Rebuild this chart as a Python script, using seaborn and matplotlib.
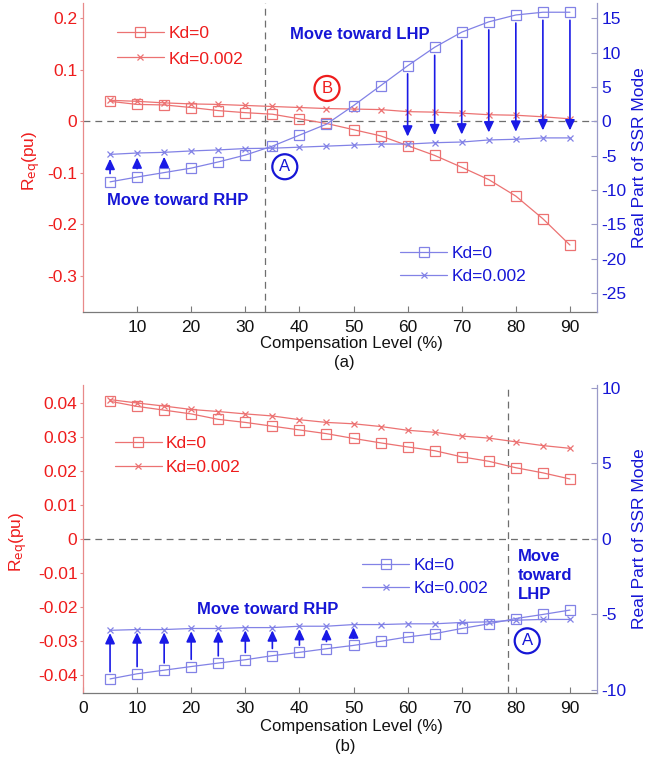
import numpy as np
import pandas as pd
import seaborn as sns
import matplotlib
matplotlib.use("Agg")
import matplotlib.pyplot as plt
from matplotlib.ticker import FuncFormatter

# ---------------- data ----------------
comp_level = [5, 10, 15, 20, 25, 30, 35, 40, 45, 50, 55, 60, 65, 70, 75, 80, 85, 90]

# panel (a)
req_kd0_a = [0.039, 0.033, 0.032, 0.027, 0.021, 0.017, 0.014, 0.005, -0.004, -0.016,
             -0.028, -0.047, -0.066, -0.089, -0.113, -0.145, -0.189, -0.240]
req_kd2_a = [0.041, 0.039, 0.036, 0.034, 0.033, 0.031, 0.029, 0.027, 0.025, 0.024,
             0.023, 0.019, 0.018, 0.016, 0.013, 0.012, 0.009, 0.005]
ssr_kd0_a = [-8.8, -8.1, -7.45, -6.8, -5.9, -4.9, -3.6, -2.0, -0.4, 2.3,
             5.2, 8.1, 10.8, 13.0, 14.5, 15.5, 15.9, 15.9]
ssr_kd2_a = [-4.8, -4.6, -4.5, -4.3, -4.15, -3.95, -3.9, -3.75, -3.6, -3.45,
             -3.3, -3.3, -3.1, -3.0, -2.7, -2.6, -2.4, -2.4]

# panel (b)
req_kd0_b = [0.0404, 0.0389, 0.0378, 0.0367, 0.0351, 0.0342, 0.0331, 0.0320, 0.0309, 0.0295,
             0.0282, 0.0270, 0.0259, 0.0241, 0.0228, 0.0209, 0.0194, 0.0176]
req_kd2_b = [0.0409, 0.0399, 0.0390, 0.0380, 0.0374, 0.0367, 0.0361, 0.0350, 0.0342, 0.0338,
             0.0330, 0.0319, 0.0313, 0.0302, 0.0296, 0.0285, 0.0274, 0.0266]
ssr_kd0_b = [-9.27, -8.93, -8.69, -8.45, -8.22, -8.0, -7.73, -7.51, -7.27, -7.05,
             -6.78, -6.49, -6.27, -5.93, -5.62, -5.27, -5.0, -4.71]
ssr_kd2_b = [-6.05, -6.0, -6.0, -5.93, -5.93, -5.87, -5.87, -5.78, -5.78, -5.67,
             -5.67, -5.62, -5.62, -5.53, -5.49, -5.38, -5.33, -5.33]

series_labels = ["Kd=0", "Kd=0.002"]
x_label = "Compensation Level (%)"
left_label = r"R$_{\mathrm{eq}}$(pu)"
right_label = "Real Part of SSR Mode"

xticks_a = [10, 20, 30, 40, 50, 60, 70, 80, 90]
xticks_b = [0, 10, 20, 30, 40, 50, 60, 70, 80, 90]
lticks_a = [-0.3, -0.2, -0.1, 0, 0.1, 0.2]
rticks_a = [-25, -20, -15, -10, -5, 0, 5, 10, 15]
lticks_b = [-0.04, -0.03, -0.02, -0.01, 0, 0.01, 0.02, 0.03, 0.04]
rticks_b = [-10, -5, 0, 5, 10]

arrows_up_a = [5, 10, 15]
arrows_down_a = [60, 65, 70, 75, 80, 85, 90]
arrows_up_b = [5, 10, 15, 20, 25, 30, 35, 40, 45, 50]

stable_boundary_a = 33.6
stable_boundary_b = 78.5

# ---------------- style ----------------
sns.set_theme(style="white")
plt.rcParams["font.family"] = ["Liberation Sans", "DejaVu Sans"]
plt.rcParams["mathtext.default"] = "regular"

RED_LINE = "#EC7272"
BLUE_LINE = "#8282E6"
RED_TXT = "#EE1C1C"
BLUE_TXT = "#1616D6"
ARROW = "#1A1AE6"
GRAY = "#6E6E6E"
FS = 12.5

fig = plt.figure(figsize=(6.71, 7.60), dpi=100)
ax_a = fig.add_axes([0.1237, 0.5895, 0.766, 0.4066])
ax_b = fig.add_axes([0.1237, 0.0882, 0.766, 0.4053])

fmt = FuncFormatter(lambda v, p: "%g" % round(v, 6))


def draw_series(ax, y, color, marker, msize):
    df = pd.DataFrame({"x": comp_level, "y": y})
    sns.lineplot(data=df, x="x", y="y", ax=ax, color=color, lw=0.9,
                 marker=marker, markersize=msize, markerfacecolor="none",
                 markeredgecolor=color, markeredgewidth=0.9)
    return ax.get_lines()[-1]


def panel(ax, req0, req2, ssr0, ssr2, ylim_l, ylim_r, xticks, lticks, rticks,
          vline, legend_red, legend_blue, spacing_red, spacing_blue):
    ax2 = ax.twinx()
    h_r0 = draw_series(ax, req0, RED_LINE, "s", 7.5)
    h_r2 = draw_series(ax, req2, RED_LINE, "x", 4)
    h_b0 = draw_series(ax2, ssr0, BLUE_LINE, "s", 7.5)
    h_b2 = draw_series(ax2, ssr2, BLUE_LINE, "x", 4)

    ax.set_xlim(0, 95)
    ax.set_ylim(*ylim_l)
    ax2.set_ylim(*ylim_r)
    ax.set_xticks(xticks)
    ax.set_yticks(lticks)
    ax2.set_yticks(rticks)
    ax.yaxis.set_major_formatter(fmt)
    ax2.yaxis.set_major_formatter(fmt)

    ax.axhline(0, color=GRAY, lw=0.9, ls=(0, (5.5, 4)), zorder=1)
    ax.axvline(vline, color=GRAY, lw=0.9, ls=(0, (5.5, 4)), zorder=1)

    for a in (ax, ax2):
        a.spines["top"].set_visible(False)
        a.grid(False)
    ax.spines["right"].set_visible(False)
    ax2.spines["left"].set_visible(False)
    ax2.spines["bottom"].set_visible(False)
    ax.spines["left"].set_color("#E88A8A")
    ax.spines["bottom"].set_color("#7A7A7A")
    ax2.spines["right"].set_color("#9A9AC8")
    for s in ("left", "bottom"):
        ax.spines[s].set_linewidth(0.9)
    ax2.spines["right"].set_linewidth(0.9)

    ax.tick_params(axis="y", direction="out", length=2.5, width=0.8, pad=1.5,
                   colors="#E88A8A", labelcolor=RED_TXT, labelsize=FS, left=True)
    ax.tick_params(axis="x", direction="in", length=4, width=0.8, pad=5.5,
                   colors="#7A7A7A", labelcolor="#111111", labelsize=FS, bottom=True)
    ax2.tick_params(axis="y", direction="in", length=4, width=0.8, pad=3,
                    colors="#9A9AC8", labelcolor=BLUE_TXT, labelsize=FS, right=True)

    ax.set_xlabel(x_label, fontsize=12, color="#111111")
    ax.set_ylabel(left_label, fontsize=FS, color=RED_TXT)
    ax2.set_ylabel(right_label, fontsize=FS, color=BLUE_TXT)

    ax.legend([h_r0, h_r2], series_labels, loc="upper left",
              bbox_to_anchor=legend_red, frameon=False, fontsize=FS,
              labelcolor=RED_TXT, handlelength=2.7, handletextpad=0.25,
              labelspacing=spacing_red, borderpad=0, borderaxespad=0)
    ax2.legend([h_b0, h_b2], series_labels, loc="upper left",
               bbox_to_anchor=legend_blue, frameon=False, fontsize=FS,
               labelcolor=BLUE_TXT, handlelength=2.7, handletextpad=0.25,
               labelspacing=spacing_blue, borderpad=0, borderaxespad=0)
    return ax2


def arrows(ax2, xs, src, dst, shrink_tail, shrink_tip):
    for xv in xs:
        i = comp_level.index(xv)
        ax2.annotate("", xy=(xv, dst[i]), xytext=(xv, src[i]),
                     arrowprops=dict(arrowstyle="-|>,head_length=0.62,head_width=0.29",
                                     mutation_scale=10, color=ARROW, lw=1.2,
                                     shrinkA=shrink_tail, shrinkB=shrink_tip),
                     zorder=5)


def circled(ax, x, y, letter, color):
    ax.text(x, y, letter, fontsize=12, color=color, ha="center", va="center",
            bbox=dict(boxstyle="circle,pad=0.3", fc="none", ec=color, lw=1.6),
            zorder=6)


# ---- panel (a) ----
ax2_a = panel(ax_a, req_kd0_a, req_kd2_a, ssr_kd0_a, ssr_kd2_a,
              (-0.37, 0.23), (-27.75, 17.25), xticks_a, lticks_a, rticks_a,
              stable_boundary_a, (0.066, 0.925), (0.617, 0.215), 0.58, 0.45)
arrows(ax2_a, arrows_up_a, ssr_kd0_a, ssr_kd2_a, 6, 3.2)
arrows(ax2_a, arrows_down_a, ssr_kd0_a, ssr_kd2_a, 5.8, 5.4)
ax_a.text(38.3, 0.169, "Move toward LHP", color=BLUE_TXT, fontsize=12,
          fontweight="bold", ha="left", va="center")
ax_a.text(4.4, -0.153, "Move toward RHP", color=BLUE_TXT, fontsize=12,
          fontweight="bold", ha="left", va="center")
circled(ax_a, 45.1, 0.064, "B", RED_TXT)
circled(ax_a, 37.3, -0.088, "A", BLUE_TXT)
ax_a.xaxis.set_label_coords(0.523, -0.078)
ax_a.yaxis.set_label_coords(-0.079, 0.49)
ax2_a.yaxis.set_label_coords(1.068, 0.5)

# ---- panel (b) ----
ax2_b = panel(ax_b, req_kd0_b, req_kd2_b, ssr_kd0_b, ssr_kd2_b,
              (-0.0452, 0.0452), (-10.2, 10.2), xticks_b, lticks_b, rticks_b,
              stable_boundary_b, (0.062, 0.835), (0.543, 0.44), 0.5, 0.5)
arrows(ax2_b, arrows_up_b, ssr_kd0_b, ssr_kd2_b, 5.2, 2.0)
ax_b.text(21.1, -0.0206, "Move toward RHP", color=BLUE_TXT, fontsize=12,
          fontweight="bold", ha="left", va="center")
ax_b.text(80.3, -0.0107, "Move\ntoward\nLHP", color=BLUE_TXT, fontsize=12,
          fontweight="bold", ha="left", va="center", linespacing=1.35)
circled(ax_b, 82.1, -0.0299, "A", BLUE_TXT)
ax_b.xaxis.set_label_coords(0.523, -0.086)
ax_b.yaxis.set_label_coords(-0.105, 0.49)
ax2_b.yaxis.set_label_coords(1.068, 0.5)

fig.text(344 / 671, 1 - 363 / 760, "(a)", fontsize=12, color="#111111",
         ha="center", va="center")
fig.text(345 / 671, 1 - 747 / 760, "(b)", fontsize=12, color="#111111",
         ha="center", va="center")

fig.savefig("out.png", dpi=100, facecolor="white")
